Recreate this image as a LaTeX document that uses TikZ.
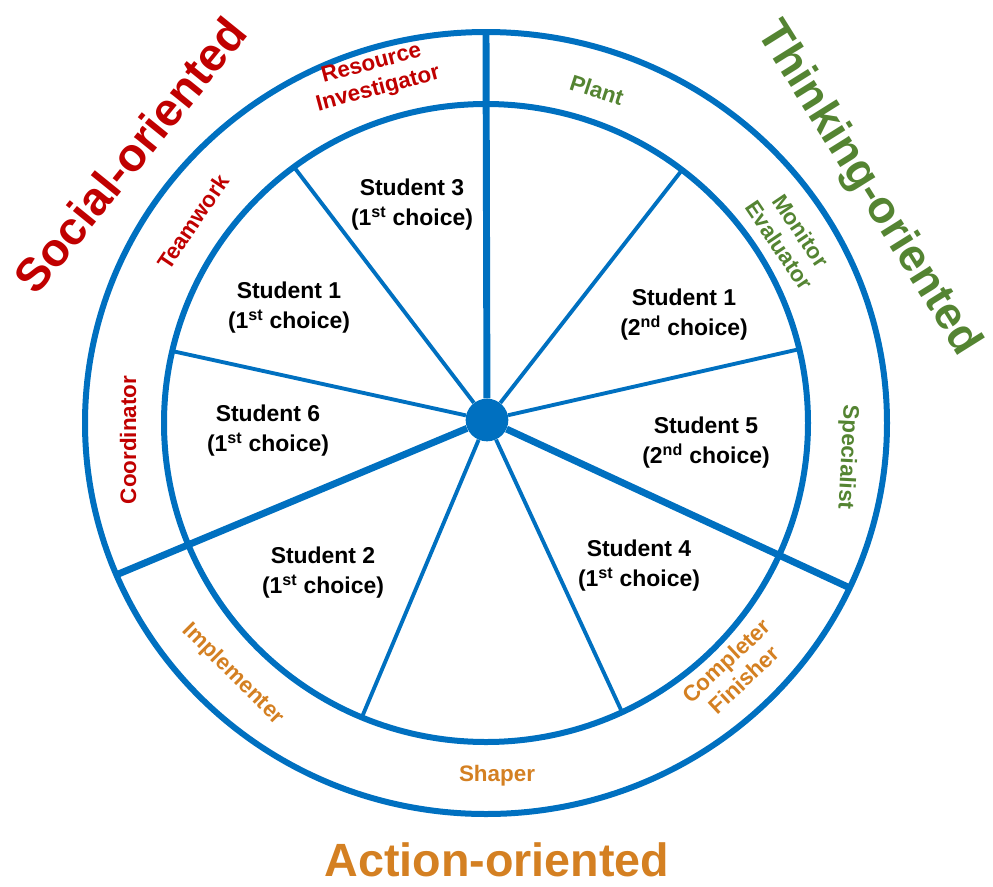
\documentclass[tikz,border=0pt]{standalone}
\usepackage{fontspec}
\setmainfont{Liberation Sans}
\usepackage{tikz}
\usepackage{xcolor}
\definecolor{wheelblue}{RGB}{0,112,192}
\definecolor{socialred}{RGB}{192,0,0}
\definecolor{thinkgreen}{RGB}{84,132,50}
\definecolor{actionorange}{RGB}{212,128,34}

\begin{document}
\begin{tikzpicture}[x=0.75pt,y=0.75pt,yscale=-1,xscale=1,
    ring/.style={color=wheelblue, line width=4.5pt},
    thickspoke/.style={color=wheelblue, line width=5.2pt},
    thinspoke/.style={color=wheelblue, line width=2.9pt},
    studentlabel/.style={inner sep=0.75pt, align=center, font=\fontsize{17.2}{22.5}\selectfont\bfseries},
    rolelabel/.style={inner sep=0.75pt, align=center, font=\fontsize{16.8}{19.5}\selectfont\bfseries},
    grouplabel/.style={inner sep=0.75pt, font=\fontsize{35}{42}\selectfont\bfseries}]
%uncomment if require: \path (0,886); %set diagram left start at 0, and has height of 886
\useasboundingbox (0,0) rectangle (993,886);

%Shape: Ellipse outer ring
\draw [ring] (486,423) ellipse (401 and 391);
%Shape: Ellipse inner ring
\draw [ring] (486,423) ellipse (322 and 319);

%Shape: Circle hub
\node (hub) [circle, fill=wheelblue, inner sep=0pt, minimum size=32pt] at (487,420) {};

%Spoke ends on the outer ring
\coordinate (endTop) at (486,32);
\coordinate (endLeft) at (116,575);
\coordinate (endRight) at (850,588);
%Spoke ends on the inner ring
\coordinate (endA) at (294,167);
\coordinate (endB) at (172,351);
\coordinate (endC) at (362,717);
\coordinate (endD) at (622,712);
\coordinate (endE) at (800,349);
\coordinate (endF) at (682,170);

%Straight Lines thin spokes
\draw [thinspoke] (hub) -- (endA);
\draw [thinspoke] (hub) -- (endB);
\draw [thinspoke] (hub) -- (endC);
\draw [thinspoke] (hub) -- (endD);
\draw [thinspoke] (hub) -- (endE);
\draw [thinspoke] (hub) -- (endF);
%Straight Lines thick spokes
\draw [thickspoke] (hub) -- (endTop);
\draw [thickspoke] (hub) -- (endLeft);
\draw [thickspoke] (hub) -- (endRight);

% Text Node
\draw (412,205) node (stuThree) [studentlabel] {Student 3\\(1\textsuperscript{st} choice)};
% Text Node
\draw (289,308) node (stuOne) [studentlabel] {Student 1\\(1\textsuperscript{st} choice)};
% Text Node
\draw (268,431) node (stuSix) [studentlabel] {Student 6\\(1\textsuperscript{st} choice)};
% Text Node
\draw (323,573) node (stuTwo) [studentlabel] {Student 2\\(1\textsuperscript{st} choice)};
% Text Node
\draw (639,566) node (stuFour) [studentlabel] {Student 4\\(1\textsuperscript{st} choice)};
% Text Node
\draw (706,443) node (stuFive) [studentlabel] {Student 5\\(2\textsuperscript{nd} choice)};
% Text Node
\draw (684,315) node (stuOneB) [studentlabel] {Student 1\\(2\textsuperscript{nd} choice)};

% Text Node
\draw (375,77) node (roleRI) [rolelabel, color=socialred, rotate=15] {Resource\\Investigator};
% Text Node
\draw (597,90) node (rolePL) [rolelabel, color=thinkgreen, rotate=-18] {Plant};
% Text Node
\draw (193,222) node (roleTW) [rolelabel, color=socialred, rotate=56] {Teamwork};
% Text Node
\draw (128,440) node (roleCO) [rolelabel, color=socialred, rotate=90] {Coordinator};
% Text Node
\draw (790,238) node (roleME) [rolelabel, color=thinkgreen, rotate=-56] {Monitor\\Evaluator};
% Text Node
\draw (847,457) node (roleSP) [rolelabel, color=thinkgreen, rotate=-93] {Specialist};
% Text Node
\draw (735,670) node (roleCF) [rolelabel, color=actionorange, rotate=43] {Completer\\Finisher};
% Text Node
\draw (497,776) node (roleSH) [rolelabel, color=actionorange] {Shaper};
% Text Node
\draw (233,674) node (roleIM) [rolelabel, color=actionorange, rotate=-45] {Implementer};

% Text Node
\draw (130,155) node (grpSocial) [grouplabel, color=socialred, rotate=51] {Social-oriented};
% Text Node
\draw (868,189) node (grpThink) [grouplabel, color=thinkgreen, rotate=-58, font=\fontsize{34}{40}\selectfont\bfseries] {Thinking-oriented};
% Text Node
\draw (497,860) node (grpAction) [grouplabel, color=actionorange] {Action-oriented};
\end{tikzpicture}
\end{document}
